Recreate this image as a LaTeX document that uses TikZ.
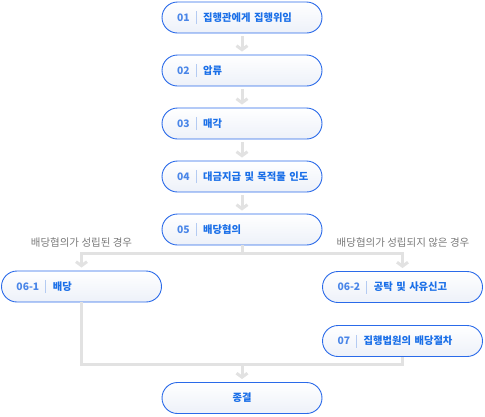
\documentclass[tikz,border=0pt]{standalone}
\usepackage{fontspec}
\setmainfont{Noto Sans CJK KR}
\usepackage{tikz}
\usetikzlibrary{arrows.meta,positioning}

\definecolor{boxblue}{HTML}{2A6AE9}
\definecolor{numblue}{HTML}{4A86E8}
\definecolor{txtblue}{HTML}{1A6FE8}
\definecolor{sepblue}{HTML}{B4CBF2}
\definecolor{shadeblue}{HTML}{EDF1F9}
\definecolor{arrowgray}{HTML}{E2E2E2}
\definecolor{labelgray}{HTML}{7A7A7A}
\newcommand{\stepno}[1]{\hspace*{4pt}{\color{numblue}#1}\hspace{6pt}{\color{sepblue}\rule[-3pt]{0.7pt}{13pt}}\hspace{7pt}}

\begin{document}
\begin{tikzpicture}[x=1pt,y=-1pt,->,>={Straight Barb[length=4pt,width=11pt]},
            line width=3pt,node distance=53pt]
        \tikzstyle{every node}=[font=\fontsize{10.3}{12}\selectfont\bfseries]
        \tikzstyle{stepbox}=[draw=boxblue,line width=0.9pt,rounded corners=15.5pt,
            top color=white,middle color=white,bottom color=shadeblue,text=txtblue,
            minimum height=31pt,text width=138pt,inner xsep=11pt,align=left]
        \tikzstyle{endbox}=[stepbox,align=center]
        \tikzstyle{case}=[font=\fontsize{10.5}{12}\selectfont\mdseries,text=labelgray]
        \tikzstyle{flow}=[draw=arrowgray,shorten <=3pt,shorten >=3pt]

        \useasboundingbox (0,0) rectangle (485,416);

        \node[stepbox] (1) at (242,17.5) {\stepno{01}집행관에게 집행위임};
        \node[stepbox] (2) [below of=1] {\stepno{02}압류};
        \node[stepbox] (3) [below of=2] {\stepno{03}매각};
        \node[stepbox] (4) [below of=3] {\stepno{04}대금지급 및 목적물 인도};
        \node[stepbox] (5) [below of=4] {\stepno{05}배당협의};
        \node[stepbox] (61) at (81.5,286.5) {\stepno{06-1}배당};
        \node[stepbox] (62) at (402.5,287) {\stepno{06-2}공탁 및 사유신고};
        \node[stepbox] (7) [below of=62,node distance=54pt] {\stepno{07}집행법원의 배당절차};
        \node[endbox] (e) at (242,398) {종결};

        \node[case] (c1) at (81.5,243) {배당협의가 성립된 경우};
        \node[case] (c2) at (403,243) {배당협의가 성립되지 않은 경우};

        \coordinate (s) at (242,253);
        \coordinate (j) at (242,364);

        \path[flow]
            (1) edge (2)
            (2) edge (3)
            (3) edge (4)
            (4) edge (5);
        \draw[draw=arrowgray,-] (5.south) -- (s);
        \draw[flow,shorten <=0pt] (s) -| (61);
        \draw[flow,shorten <=0pt] (s) -| (62);
        \draw[draw=arrowgray,-] (61.south) |- (j) -| (7.south);
        \draw[flow,shorten <=0pt] (j) -- (e);

        \end{tikzpicture}
\end{document}
